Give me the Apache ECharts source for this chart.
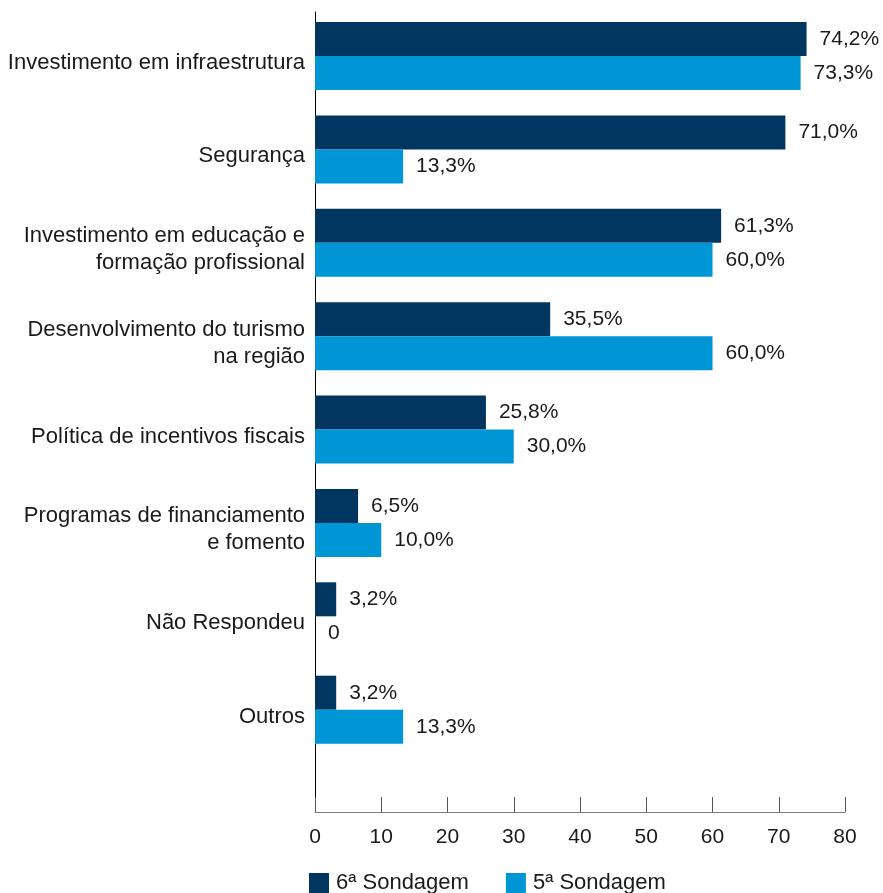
<!DOCTYPE html>
<html>
<head>
<meta charset="utf-8">
<script src="https://cdn.jsdelivr.net/npm/echarts@6/dist/echarts.min.js"></script>
<style>html,body{margin:0;padding:0;background:#fff}#c{width:883px;height:893px}</style>
</head>
<body>
<div id="c"></div>
<script>
const categories = [
  'Investimento em infraestrutura',
  'Segurança',
  'Investimento em educação e\nformação profissional',
  'Desenvolvimento do turismo\nna região',
  'Política de incentivos fiscais',
  'Programas de financiamento\ne fomento',
  'Não Respondeu',
  'Outros'
];
const seriesNames = ['6ª Sondagem', '5ª Sondagem'];
const sondagem6 = [74.2, 71.0, 61.3, 35.5, 25.8, 6.5, 3.2, 3.2];
const sondagem5 = [73.3, 13.3, 60.0, 60.0, 30.0, 10.0, 0, 13.3];
const xTicks = [0, 10, 20, 30, 40, 50, 60, 70, 80];

const FONT = 'Liberation Sans, Arial, sans-serif';
const fmt = p => p.value === 0 ? '0' : p.value.toFixed(1).replace('.', ',') + '%';

const chart = echarts.init(document.getElementById('c'), null, {renderer: 'canvas'});
const labelCfg = {show: true, position: 'right', distance: 13, formatter: fmt,
  fontFamily: FONT, fontSize: 21, color: '#1a1a1a'};
chart.setOption({
  animation: false,
  textStyle: {fontFamily: FONT},
  legend: {
    data: seriesNames, left: 309, top: 872, padding: 0, itemWidth: 20, itemHeight: 20, itemGap: 37,
    icon: 'rect', textStyle: {fontFamily: FONT, fontSize: 22, color: '#1a1a1a', padding: [0, 0, 0, 2]}
  },
  grid: [
    {left: 315, right: 38, top: 9.3, height: 747.1},
    {left: 315, right: 38, top: 12, height: 800},
    {left: 315, right: 38, top: 16.3, height: 747.1}
  ],
  xAxis: [
    {gridIndex: 0, type: 'value', min: xTicks[0], max: xTicks[xTicks.length - 1], show: false},
    {gridIndex: 1, type: 'value', min: xTicks[0], max: xTicks[xTicks.length - 1], interval: 10,
      axisLine: {show: true, onZero: false, lineStyle: {color: '#7f7f7f', width: 1}},
      axisTick: {show: true, inside: true, length: 15, lineStyle: {color: '#555'}},
      axisLabel: {fontFamily: FONT, fontSize: 21, color: '#1a1a1a', margin: 15},
      splitLine: {show: false}},
    {gridIndex: 2, type: 'value', min: xTicks[0], max: xTicks[xTicks.length - 1], show: false}
  ],
  yAxis: [
    {gridIndex: 0, type: 'category', data: categories, inverse: true,
      axisLine: {show: false}, axisTick: {show: false}, axisLabel: {show: false}},
    {gridIndex: 1, type: 'value', min: 0, max: 1,
      axisLine: {show: true, onZero: false, lineStyle: {color: '#000', width: 1}},
      axisTick: {show: false}, axisLabel: {show: false}, splitLine: {show: false}},
    {gridIndex: 2, type: 'category', data: categories, inverse: true,
      axisLine: {show: false}, axisTick: {show: false},
      axisLabel: {fontFamily: FONT, fontSize: 22, color: '#1a1a1a', margin: 10, lineHeight: 27, align: 'right'}}
  ],
  series: [
    {name: seriesNames[0], type: 'bar', xAxisIndex: 0, yAxisIndex: 0, data: sondagem6,
      barWidth: 34, barGap: '0%', itemStyle: {color: '#003660'}, label: labelCfg},
    {name: seriesNames[1], type: 'bar', xAxisIndex: 0, yAxisIndex: 0, data: sondagem5,
      barWidth: 34, barGap: '0%', itemStyle: {color: '#0096d6'}, label: labelCfg}
  ]
});
</script>
</body>
</html>
